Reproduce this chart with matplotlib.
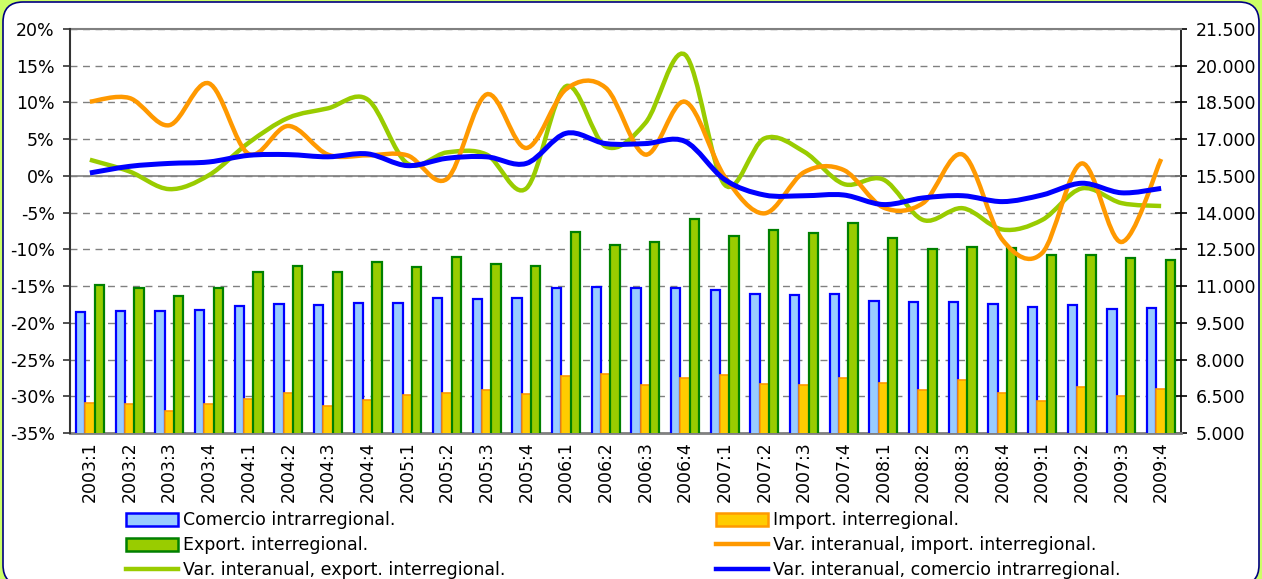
import numpy as np
import matplotlib
matplotlib.use("Agg")
import matplotlib.pyplot as plt
from matplotlib.path import Path
from matplotlib.patches import PathPatch, FancyBboxPatch, Patch
from matplotlib.lines import Line2D
from matplotlib.transforms import IdentityTransform
from matplotlib.ticker import FuncFormatter

plt.rcParams['font.family'] = ['DejaVu Sans']

# trimestres
cats = ['2003:1', '2003:2', '2003:3', '2003:4', '2004:1', '2004:2', '2004:3', '2004:4',
        '2005:1', '2005:2', '2005:3', '2005:4', '2006:1', '2006:2', '2006:3', '2006:4',
        '2007:1', '2007:2', '2007:3', '2007:4', '2008:1', '2008:2', '2008:3', '2008:4',
        '2009:1', '2009:2', '2009:3', '2009:4']

# barras (eje derecho)
comercio = [9940, 9980, 9980, 10010, 10190, 10270, 10230, 10320, 10320, 10500, 10470, 10500,
            10910, 10960, 10940, 10920, 10840, 10680, 10620, 10660, 10400, 10340, 10340, 10270,
            10160, 10220, 10080, 10090]
importi = [6210, 6200, 5910, 6180, 6400, 6620, 6100, 6350, 6560, 6620, 6770, 6590,
           7340, 7420, 6960, 7250, 7380, 7020, 6980, 7260, 7060, 6760, 7150, 6650,
           6320, 6870, 6510, 6790]
export = [11060, 10940, 10600, 10910, 11560, 11820, 11560, 12000, 11790, 12200, 11900, 11820,
          13220, 12680, 12800, 13740, 13060, 13300, 13180, 13570, 12980, 12500, 12600, 12570,
          12270, 12280, 12140, 12050]

# variaciones (eje izquierdo, %)
var_imp = [10.1, 10.6, 6.9, 12.6, 3.0, 6.8, 2.9, 2.8, 2.8, -0.4, 11.1, 3.8,
           11.8, 12.0, 2.9, 10.1, -0.1, -5.1, 0.5, 0.8, -4.3, -3.7, 2.9, -8.7,
           -10.5, 1.7, -9.0, 2.3]
var_exp = [2.2, 0.6, -1.8, 0.1, 4.5, 7.9, 9.2, 10.4, 1.7, 3.2, 2.9, -1.7,
           12.2, 4.0, 7.2, 16.5, -1.2, 5.1, 3.3, -1.1, -0.5, -6.0, -4.4, -7.3,
           -6.0, -1.7, -3.7, -4.1]
var_com = [0.4, 1.3, 1.7, 1.9, 2.8, 2.9, 2.6, 3.0, 1.4, 2.4, 2.6, 1.7,
           5.8, 4.4, 4.4, 4.7, -0.5, -2.6, -2.7, -2.6, -3.9, -3.0, -2.7, -3.5,
           -2.6, -1.0, -2.3, -1.7]


# curva suavizada tipo Excel (bezier a partir de los puntos)
def curva(x, y):
    n = len(x)
    verts = [(x[0], y[0])]
    codes = [Path.MOVETO]
    for i in range(n - 1):
        a = max(i - 1, 0)
        b = min(i + 2, n - 1)
        c1 = (x[i] + (x[i + 1] - x[a]) / 6, y[i] + (y[i + 1] - y[a]) / 6)
        c2 = (x[i + 1] - (x[b] - x[i]) / 6, y[i + 1] - (y[b] - y[i]) / 6)
        verts += [c1, c2, (x[i + 1], y[i + 1])]
        codes += [Path.CURVE4] * 3
    return Path(verts, codes)


fig = plt.figure(figsize=(12.62, 5.79), dpi=100)
fig.patch.set_facecolor('#ccff66')
marco = FancyBboxPatch((3, -6), 1256, 583, boxstyle='round,pad=0,rounding_size=20',
                       transform=IdentityTransform(), facecolor='white',
                       edgecolor='#000080', lw=1.2, zorder=-1)
fig.add_artist(marco)

ax = fig.add_axes([0.0555, 0.2522, 0.8803, 0.6977])
ax2 = ax.twinx()
ax.set_zorder(ax2.get_zorder() + 1)
ax.patch.set_visible(False)

x = np.arange(len(cats))
w = 0.235
ax2.bar(x - w, comercio, w, color='#99ccff', edgecolor='#0000ff', lw=1.6, zorder=3)
ax2.bar(x, importi, w, color='#ffcc00', edgecolor='#ff9900', lw=1.2, zorder=3)
ax2.bar(x + w, export, w, color='#99cc00', edgecolor='#008000', lw=1.6, zorder=3)

ax2.set_ylim(5000, 21500)
ax2.set_yticks(np.arange(5000, 21501, 1500))
ax2.yaxis.set_major_formatter(FuncFormatter(lambda v, p: f'{int(v):,}'.replace(',', '.')))
ax2.set_axisbelow(True)
ax2.grid(axis='y', which='major', color='#808080', ls=(0, (5, 4)), lw=1)
ax2.set_xticks(np.arange(-0.5, len(cats), 1), minor=True)
ax2.grid(axis='x', which='minor', color='#c8c8c8', ls=(0, (5, 7)), lw=1)

ax.axhline(0, color='#808080', lw=1.2, zorder=1)
ax.add_patch(PathPatch(curva(x, var_exp), facecolor='none', edgecolor='#99cc00', lw=3.2, zorder=4))
ax.add_patch(PathPatch(curva(x, var_imp), facecolor='none', edgecolor='#ff9900', lw=3.2, zorder=5))
ax.add_patch(PathPatch(curva(x, var_com), facecolor='none', edgecolor='#0000ff', lw=3.6, zorder=6))

ax.set_xlim(-0.5, len(cats) - 0.5)
ax.set_ylim(-35, 20)
ax.set_yticks(np.arange(-35, 21, 5))
ax.yaxis.set_major_formatter(FuncFormatter(lambda v, p: f'{int(v)}%'))
ax.set_xticks(x)
ax.set_xticklabels(cats, rotation=90)
ax.tick_params(axis='x', which='both', length=0, pad=6, labelsize=12.5)
ax.tick_params(axis='y', direction='out', length=5, width=1.2, pad=6, labelsize=12.5, color='#333333')
ax2.tick_params(axis='y', direction='inout', length=9, width=1.2, pad=6, labelsize=12.5)
ax2.tick_params(axis='x', which='both', length=0)

for s in ['top', 'right', 'bottom']:
    ax.spines[s].set_visible(False)
ax.spines['left'].set_color('#333333')
ax.spines['left'].set_linewidth(1.5)
ax2.spines['left'].set_visible(False)
ax2.spines['right'].set_color('black')
ax2.spines['right'].set_linewidth(1.2)
ax2.spines['top'].set_color('#808080')
ax2.spines['top'].set_linewidth(1.5)
ax2.spines['bottom'].set_color('#808080')
ax2.spines['bottom'].set_linewidth(2)

handles = [
    Patch(facecolor='#99ccff', edgecolor='#0000ff', lw=1.8),
    Patch(facecolor='#99cc00', edgecolor='#008000', lw=1.8),
    Line2D([], [], color='#99cc00', lw=3.2),
    Patch(facecolor='#ffcc00', edgecolor='#ff9900', lw=1.8),
    Line2D([], [], color='#ff9900', lw=3.2),
    Line2D([], [], color='#0000ff', lw=3.2),
]
labels = ['Comercio intrarregional.', 'Export. interregional.',
          'Var. interanual, export. interregional.', 'Import. interregional.',
          'Var. interanual, import. interregional.', 'Var. interanual, comercio intrarregional.']
fig.legend(handles, labels, loc='upper left', bbox_to_anchor=(0.1, 0.117), ncol=2,
           frameon=False, fontsize=12.5, handlelength=3.0, handleheight=0.75,
           handletextpad=0.3, labelspacing=0.4, columnspacing=12.1, borderpad=0,
           borderaxespad=0)

fig.savefig('out.png', dpi=100, facecolor=fig.get_facecolor())
